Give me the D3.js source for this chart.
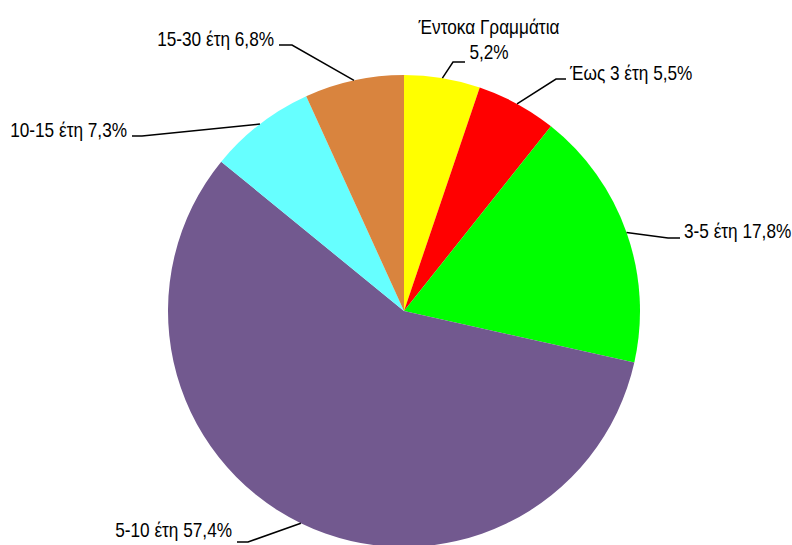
<!DOCTYPE html>
<html>
<head>
<meta charset="utf-8">
<script src="https://cdn.jsdelivr.net/npm/d3@7"></script>
<style>
  html, body { margin: 0; padding: 0; background: #fff; }
  svg { display: block; }
  .lbl { font-family: "Liberation Sans", Arial, sans-serif; font-size: 21px; fill: #000; }
</style>
</head>
<body>
<svg id="chart"></svg>
<script>
// data
const categories = ["Έντοκα Γραμμάτια", "Έως 3 έτη", "3-5 έτη", "5-10 έτη", "10-15 έτη", "15-30 έτη"];
const shares = [5.2, 5.5, 17.8, 57.4, 7.3, 6.8];
const colors = ["#ffff00", "#ff0000", "#00ff00", "#72598f", "#66ffff", "#d9843e"];

const width = 792, height = 545;
const cx = 404, cy = 311, radius = 236;
const narrow = 0.82; // no Arial Narrow installed, squeeze regular sans instead

// label elbow positions (relative to pie centre) and which side text sits on
const labelLayout = [
  { ex: 49, ey: -249, run: 12, side: "top", dy: 0 },
  { ex: 152, ey: -232, run: 10, side: "right", dy: 1 },
  { ex: 264, ey: -73, run: 12, side: "right", dy: 0 },
  { ex: -156, ey: 231, run: -11, side: "left", dy: -5 },
  { ex: -262, ey: -175, run: -10, side: "left", dy: 1 },
  { ex: -112, ey: -266, run: -13, side: "left", dy: 1 }
];

const fmt = v => d3.format(".1f")(v).replace(".", ",") + "%";

const svg = d3.select("#chart").attr("width", width).attr("height", height);
const g = svg.append("g").attr("transform", "translate(" + cx + "," + cy + ")");

const pie = d3.pie().sort(null).value(d => d.value);
const arc = d3.arc().innerRadius(0).outerRadius(radius);

const data = categories.map((c, i) => ({ name: c, value: shares[i], color: colors[i], layout: labelLayout[i] }));
const arcs = pie(data);

g.selectAll("path.slice")
  .data(arcs)
  .enter()
  .append("path")
  .attr("class", "slice")
  .attr("d", arc)
  .attr("fill", d => d.data.color);

function addText(x, y, anchor, str) {
  g.append("text")
    .attr("class", "lbl")
    .attr("text-anchor", anchor)
    .attr("transform", "translate(" + x + "," + y + ") scale(" + narrow + ",1)")
    .text(str);
}

// leader lines: from the arc edge at mid angle, to the elbow, then a short flat run
arcs.forEach(function (d) {
  const mid = (d.startAngle + d.endAngle) / 2;
  const px = Math.sin(mid) * radius, py = -Math.cos(mid) * radius;
  const L = d.data.layout;
  const hx = L.ex + L.run;
  g.append("polyline")
    .attr("points", [[px, py], [L.ex, L.ey], [hx, L.ey]].map(p => p.join(",")).join(" "))
    .attr("fill", "none")
    .attr("stroke", "#000")
    .attr("stroke-width", 1.5);

  if (L.side === "top") {
    addText(hx + 24, L.ey - 28, "middle", d.data.name);
    addText(hx + 24, L.ey - 3, "middle", fmt(d.data.value));
  } else {
    addText(hx + (L.side === "right" ? 4 : -5), L.ey + L.dy,
      L.side === "right" ? "start" : "end",
      d.data.name + " " + fmt(d.data.value));
  }
});
</script>
</body>
</html>
